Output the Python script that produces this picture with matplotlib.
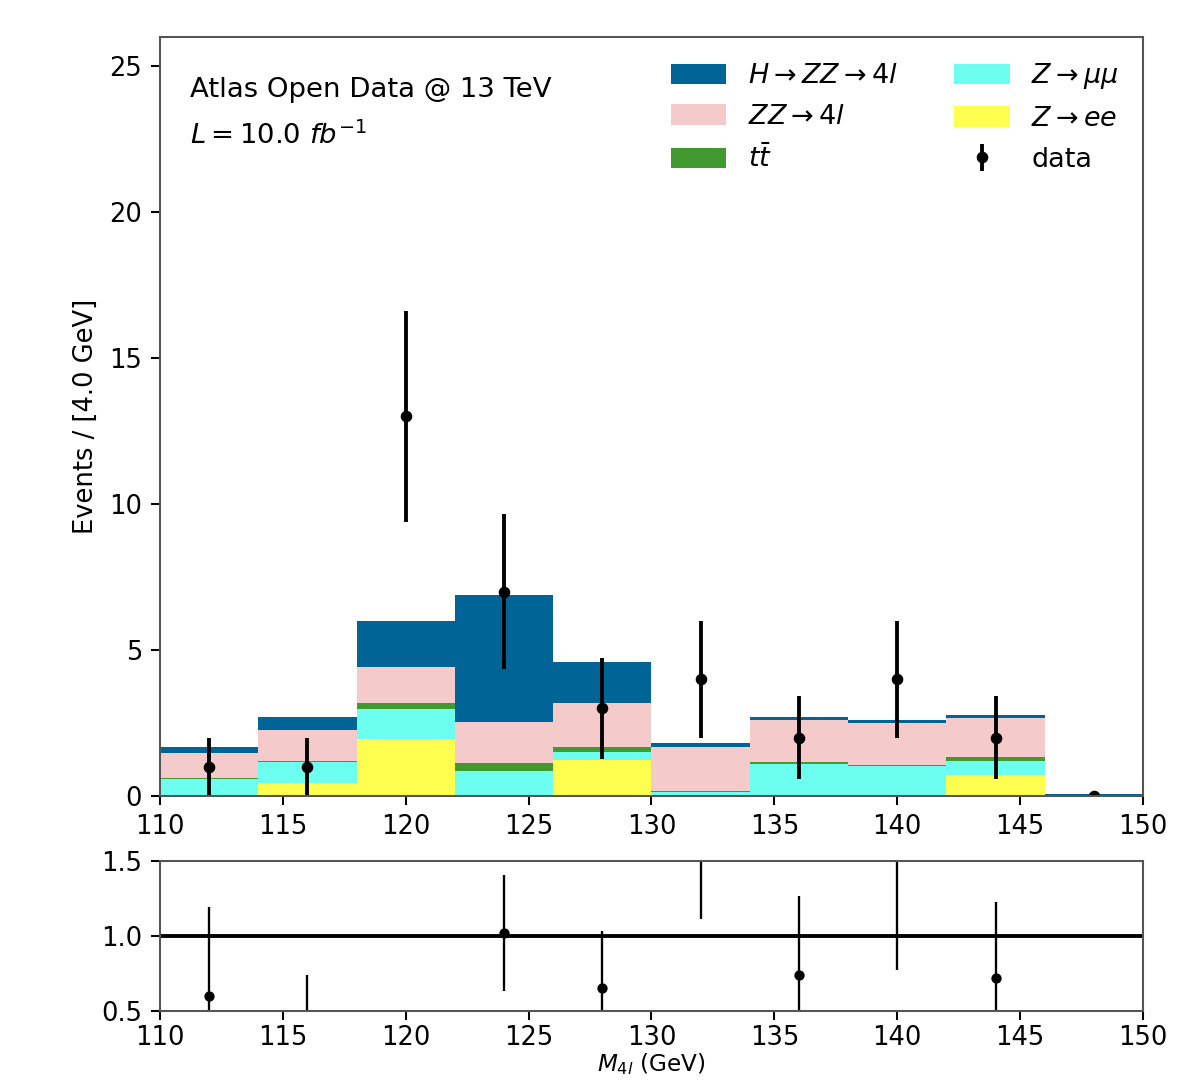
import numpy as np
import matplotlib
matplotlib.use("Agg")
import matplotlib.pyplot as plt

# ---- data ----
bin_edges = [110, 114, 118, 122, 126, 130, 134, 138, 142, 146, 150]
z_ee = [0.02, 0.43, 1.95, 0.02, 1.23, 0.02, 0.03, 0.03, 0.72, 0.0]
z_mumu = [0.56, 0.74, 1.03, 0.84, 0.29, 0.10, 1.07, 0.98, 0.46, 0.0]
ttbar = [0.02, 0.02, 0.20, 0.26, 0.17, 0.05, 0.06, 0.05, 0.15, 0.0]
zz_4l = [0.88, 1.07, 1.25, 1.41, 1.49, 1.50, 1.43, 1.45, 1.33, 0.02]
h_zz_4l = [0.20, 0.44, 1.58, 4.34, 1.40, 0.13, 0.11, 0.08, 0.12, 0.04]
data = [1, 1, 13, 7, 3, 4, 2, 4, 2, 0]

labels = [r'$Z \rightarrow ee$', r'$Z \rightarrow \mu\mu$', r'$t\bar{t}$',
          r'$ZZ \rightarrow 4l$', r'$H \rightarrow ZZ \rightarrow 4l$']
colors = ['#ffff50', '#6cfff0', '#409a30', '#f5caca', '#006496']

edges = np.array(bin_edges, dtype=float)
centers = 0.5 * (edges[:-1] + edges[1:])
widths = np.diff(edges)
components = [np.array(z_ee), np.array(z_mumu), np.array(ttbar),
              np.array(zz_4l), np.array(h_zz_4l)]
data = np.array(data, dtype=float)
data_err = np.sqrt(data)

DPI = 185
fig = plt.figure(figsize=(1181 / DPI, 1081 / DPI), dpi=DPI)
ax = fig.add_axes([0.1355, 0.2637, 0.8323, 0.7021])
rax = fig.add_axes([0.1355, 0.0650, 0.8323, 0.1385])

bottom = np.zeros(len(centers))
handles = {}
for comp, lab, col in zip(components, labels, colors):
    b = ax.bar(edges[:-1], comp, width=widths, bottom=bottom, align='edge',
               color=col, label=lab, linewidth=0)
    handles[lab] = b
    bottom = bottom + comp
total = bottom

eb = ax.errorbar(centers, data, yerr=data_err, fmt='o', color='k',
                 markersize=3.5, elinewidth=1.5, label='data')
handles['data'] = eb

ax.set_xlim(110, 150)
ax.set_ylim(0, 26)
ax.set_xticks(np.arange(110, 151, 5))
ax.set_yticks(np.arange(0, 26, 5))
ax.set_ylabel('Events / [4.0 GeV]')

order = [labels[4], labels[3], labels[2], labels[1], labels[0], 'data']
ax.legend([handles[k] for k in order], order, ncol=2, frameon=False,
          loc='upper right', fontsize=10.5, handlelength=2.05,
          handleheight=0.8, columnspacing=2.1, borderaxespad=0.5,
          labelspacing=0.55)

ax.text(0.03, 0.93, 'Atlas Open Data @ 13 TeV', transform=ax.transAxes,
        fontsize=10.7, va='center', ha='left')
ax.text(0.03, 0.87, r'$L = 10.0\ fb^{-1}$', transform=ax.transAxes,
        fontsize=10.7, va='center', ha='left')

# ---- ratio ----
ratio = data / total
ratio_err = data_err / total
rax.axhline(1.0, color='k', lw=1.5)
rax.errorbar(centers, ratio, yerr=ratio_err, fmt='o', color='k',
             markersize=3, elinewidth=0.9)
rax.set_xlim(110, 150)
rax.set_ylim(0.5, 1.5)
rax.set_xticks(np.arange(110, 151, 5))
rax.set_yticks([0.5, 1.0, 1.5])
rax.tick_params(axis='x', pad=2)
rax.set_xlabel(r'$M_{4l}$ (GeV)', labelpad=0, fontsize=9)

for a in (ax, rax):
    for s in a.spines.values():
        s.set_color('#555555')

fig.savefig('out.png', dpi=DPI)
